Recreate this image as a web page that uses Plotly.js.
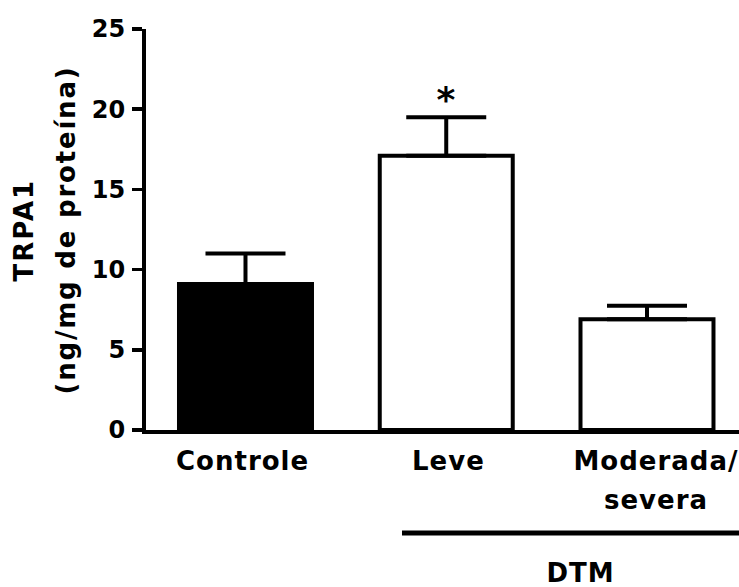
<!DOCTYPE html>
<html>
<head>
<meta charset="utf-8">
<script src="https://cdn.plot.ly/plotly-3.0.1.min.js"></script>
<style>
  html, body { margin: 0; padding: 0; background: #ffffff; }
  #chart { width: 739px; height: 587px; }
  .main-svg text { letter-spacing: 1px; }
  .main-svg .ytick text { letter-spacing: 0px; }
</style>
</head>
<body>
<div id="chart"></div>
<script>
// ---- data ----
const categories = ["Controle", "Leve", "Moderada/severa"];
const meanValues = [9.1, 17.1, 6.9];
const semValues = [1.9, 2.4, 0.85];
const barColors = ["#000000", "#ffffff", "#ffffff"];
const yTickVals = [0, 5, 10, 15, 20, 25];
const xLabelLine1 = ["Controle", "Leve", "Moderada/"];
const xLabelLine2 = ["", "", "severa"];
const yTitleLines = ["TRPA1", "(ng/mg de proteína)"];
const significance = ["", "*", ""];
const groupLabel = "DTM";

// ---- layout geometry (pixels) ----
const W = 739, H = 587;
const M = { l: 146, r: 0, t: 29, b: 157 };
const plotW = W - M.l - M.r, plotH = H - M.t - M.b;
const px2x = p => (p - M.l) / plotW;
const px2y = p => (H - M.b - p) / plotH;

const FONT = "DejaVu Sans, Liberation Sans, Arial, sans-serif";
const baseFont = { family: FONT, size: 26, color: "#000000", weight: "bold" };
const tickFont = { family: FONT, size: 24, color: "#000000", weight: "bold" };

const labelShift = [-3, 2, 9];

const trace = {
  type: "bar",
  x: categories,
  y: meanValues,
  width: 0.6625,
  marker: { color: barColors, line: { color: "#000000", width: 4 } },
  error_y: {
    type: "data",
    symmetric: false,
    array: semValues,
    arrayminus: semValues.map(() => 0),
    color: "#000000",
    thickness: 4,
    width: 40
  },
  hoverinfo: "skip"
};

const annotations = [];
categories.forEach((c, i) => {
  annotations.push({
    x: c, xref: "x", y: px2y(461), yref: "paper",
    text: xLabelLine1[i], showarrow: false,
    xanchor: "center", yanchor: "middle", xshift: labelShift[i],
    font: baseFont
  });
  if (xLabelLine2[i]) {
    annotations.push({
      x: c, xref: "x", y: px2y(500), yref: "paper",
      text: xLabelLine2[i], showarrow: false,
      xanchor: "center", yanchor: "middle", xshift: labelShift[i],
      font: baseFont
    });
  }
  if (significance[i]) {
    annotations.push({
      x: c, xref: "x", y: meanValues[i] + semValues[i], yref: "y",
      text: significance[i], showarrow: false,
      xanchor: "center", yanchor: "middle", xshift: 0, yshift: 18,
      font: Object.assign({}, baseFont, { size: 36 })
    });
  }
});

annotations.push({
  x: px2x(24), xref: "paper", y: px2y(230.5), yref: "paper",
  text: '<span style="letter-spacing:2px">' + yTitleLines[0] + '</span>',
  showarrow: false, textangle: -90,
  xanchor: "center", yanchor: "middle", font: baseFont
});
annotations.push({
  x: px2x(66), xref: "paper", y: px2y(230.5), yref: "paper",
  text: '<span style="letter-spacing:1.8px">' + yTitleLines[1] + '</span>',
  showarrow: false, textangle: -90,
  xanchor: "center", yanchor: "middle", font: baseFont
});
annotations.push({
  x: px2x(580), xref: "paper", y: px2y(573), yref: "paper",
  text: groupLabel, showarrow: false,
  xanchor: "center", yanchor: "middle", font: baseFont
});

const layout = {
  width: W, height: H,
  margin: M,
  paper_bgcolor: "#ffffff",
  plot_bgcolor: "#ffffff",
  showlegend: false,
  hovermode: false,
  xaxis: {
    type: "category",
    range: [-0.4956, 2.4583],
    showticklabels: false,
    ticks: "",
    showgrid: false,
    zeroline: false,
    showline: true,
    linecolor: "#000000",
    linewidth: 4,
    fixedrange: true
  },
  yaxis: {
    range: [0, 25],
    tickvals: yTickVals,
    ticktext: yTickVals.map(String),
    ticks: "outside",
    ticklen: 10,
    tickwidth: 3.5,
    tickcolor: "#000000",
    tickfont: tickFont,
    ticklabelstandoff: 2,
    showgrid: false,
    zeroline: false,
    showline: true,
    linecolor: "#000000",
    linewidth: 4,
    fixedrange: true
  },
  shapes: [{
    type: "line", xref: "paper", yref: "paper",
    x0: px2x(402), x1: 1.0, y0: px2y(533), y1: px2y(533),
    line: { color: "#000000", width: 5 }
  }],
  annotations: annotations
};

Plotly.newPlot("chart", [trace], layout, { displayModeBar: false, staticPlot: true });
</script>
</body>
</html>
